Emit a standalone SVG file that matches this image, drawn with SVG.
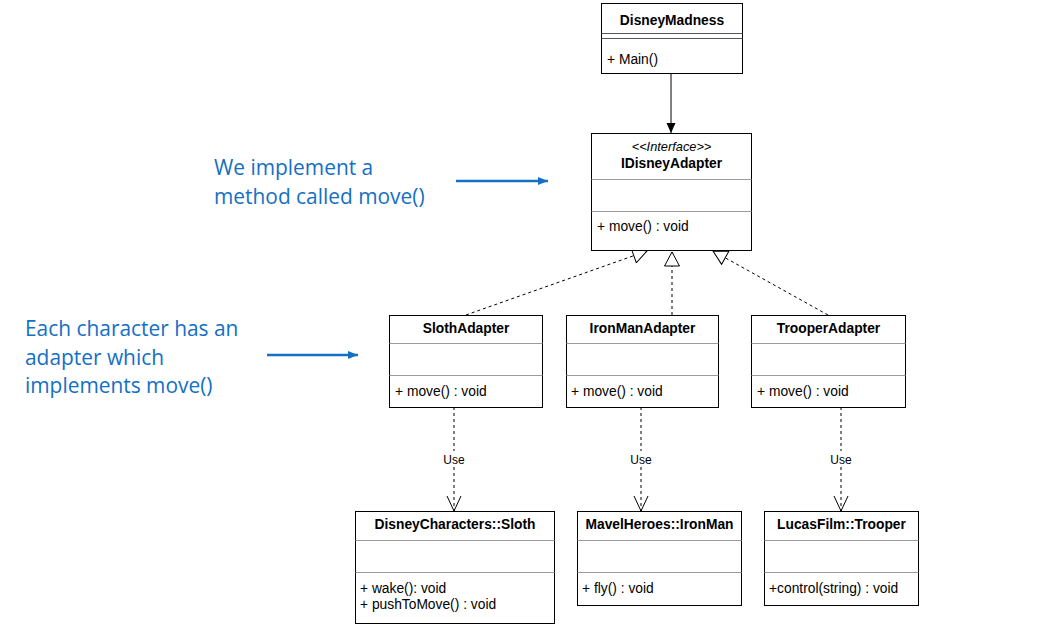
<svg xmlns="http://www.w3.org/2000/svg" width="1052" height="627" viewBox="0 0 1052 627">
<style>
.box{fill:#fff;stroke:#000;stroke-width:1}
.sep{stroke:#9a9a9a;stroke-width:1;fill:none}
.t{font-family:"Liberation Sans",Arial,sans-serif;font-size:13.8px;fill:#000}
.b{font-weight:bold;text-anchor:middle}
.c{text-anchor:middle}
.note{font-family:"Open Sans","Liberation Sans",sans-serif;font-size:20.9px;fill:#1570c4}
.dash{stroke:#000;stroke-width:1;stroke-dasharray:3,3;fill:none}
.blue{stroke:#1570c4;stroke-width:2.5;fill:none}
</style>
<defs>
<marker id="tri" markerWidth="16" markerHeight="16" refX="15" refY="8" orient="auto" markerUnits="userSpaceOnUse">
<path d="M1,0.5 L15,8 L1,15.5 Z" fill="#fff" stroke="#000" stroke-width="1"/>
</marker>
<marker id="vee" markerWidth="18" markerHeight="18" refX="15" refY="8" orient="auto" markerUnits="userSpaceOnUse">
<path d="M0,1 L15,8 L0,15" fill="none" stroke="#000" stroke-width="1"/>
</marker>
<marker id="fill" markerWidth="12" markerHeight="12" refX="10" refY="5" orient="auto" markerUnits="userSpaceOnUse">
<path d="M0,0.5 L10,5 L0,9.5 Z" fill="#000"/>
</marker>
<marker id="barrow" markerWidth="12" markerHeight="12" refX="10" refY="5" orient="auto" markerUnits="userSpaceOnUse">
<path d="M0,1 L10,5 L0,9 Z" fill="#1570c4"/>
</marker>
</defs>

<g id="connectors">
<line x1="671" y1="73" x2="671" y2="133" stroke="#000" stroke-width="1" marker-end="url(#fill)"/>
<line class="dash" x1="466" y1="315" x2="647" y2="251" marker-end="url(#tri)"/>
<line class="dash" x1="672" y1="315" x2="672" y2="252" marker-end="url(#tri)"/>
<line class="dash" x1="828" y1="315" x2="713" y2="251" marker-end="url(#tri)"/>
<line class="dash" x1="454" y1="407" x2="454" y2="511" marker-end="url(#vee)"/>
<line class="dash" x1="641" y1="407" x2="641" y2="511" marker-end="url(#vee)"/>
<line class="dash" x1="841" y1="407" x2="841" y2="511" marker-end="url(#vee)"/>
<rect x="440" y="451" width="28" height="15" fill="#fff"/>
<rect x="627" y="451" width="28" height="15" fill="#fff"/>
<rect x="827" y="451" width="28" height="15" fill="#fff"/>
<text class="t c" x="454" y="464" style="font-size:12px">Use</text>
<text class="t c" x="641" y="464" style="font-size:12px">Use</text>
<text class="t c" x="841" y="464" style="font-size:12px">Use</text>
<line class="blue" x1="456" y1="181" x2="548" y2="181" marker-end="url(#barrow)"/>
<line class="blue" x1="267" y1="355" x2="358" y2="355" marker-end="url(#barrow)"/>
</g>

<g id="note1">
<text class="note" x="214" y="175">We implement a</text>
<text class="note" x="214" y="204">method called move()</text>
</g>
<g id="note2">
<text class="note" x="25" y="336">Each character has an</text>
<text class="note" x="25" y="365">adapter which</text>
<text class="note" x="25" y="393">implements move()</text>
</g>

<g id="DisneyMadness">
<rect class="box" x="601.5" y="3.5" width="141" height="70"/>
<line class="sep" x1="601.5" y1="33.5" x2="742.5" y2="33.5" style="stroke:#555"/>
<line class="sep" x1="601.5" y1="38.5" x2="742.5" y2="38.5" style="stroke:#555"/>
<text class="t b" x="672" y="25">DisneyMadness</text>
<text class="t" x="607" y="64">+ Main()</text>
</g>

<g id="IDisneyAdapter">
<rect class="box" x="591.5" y="133.5" width="160" height="117"/>
<line class="sep" x1="591.5" y1="179.5" x2="751.5" y2="179.5"/>
<line class="sep" x1="591.5" y1="211.5" x2="751.5" y2="211.5"/>
<text class="t c" x="671.5" y="151" style="font-style:italic;font-size:12.8px">&lt;&lt;Interface&gt;&gt;</text>
<text class="t b" x="671.5" y="168">IDisneyAdapter</text>
<text class="t" x="597" y="231">+ move() : void</text>
</g>

<g id="SlothAdapter">
<rect class="box" x="389.5" y="315.5" width="153" height="92"/>
<line class="sep" x1="389.5" y1="343.5" x2="542.5" y2="343.5"/>
<line class="sep" x1="389.5" y1="375.5" x2="542.5" y2="375.5"/>
<text class="t b" x="466" y="333">SlothAdapter</text>
<text class="t" x="395" y="396">+ move() : void</text>
</g>

<g id="IronManAdapter">
<rect class="box" x="566.5" y="315.5" width="152" height="92"/>
<line class="sep" x1="566.5" y1="343.5" x2="718.5" y2="343.5"/>
<line class="sep" x1="566.5" y1="375.5" x2="718.5" y2="375.5"/>
<text class="t b" x="642.5" y="333">IronManAdapter</text>
<text class="t" x="571" y="396">+ move() : void</text>
</g>

<g id="TrooperAdapter">
<rect class="box" x="751.5" y="315.5" width="154" height="92"/>
<line class="sep" x1="751.5" y1="343.5" x2="905.5" y2="343.5"/>
<line class="sep" x1="751.5" y1="375.5" x2="905.5" y2="375.5"/>
<text class="t b" x="828.5" y="333">TrooperAdapter</text>
<text class="t" x="757" y="396">+ move() : void</text>
</g>

<g id="Sloth">
<rect class="box" x="355.5" y="511.5" width="199" height="112"/>
<line class="sep" x1="355.5" y1="540.5" x2="554.5" y2="540.5"/>
<line class="sep" x1="355.5" y1="572.5" x2="554.5" y2="572.5"/>
<text class="t b" x="455" y="529">DisneyCharacters::Sloth</text>
<text class="t" x="360" y="593">+ wake(): void</text>
<text class="t" x="360" y="609">+ pushToMove() : void</text>
</g>

<g id="IronMan">
<rect class="box" x="577.5" y="511.5" width="164" height="94"/>
<line class="sep" x1="577.5" y1="540.5" x2="741.5" y2="540.5"/>
<line class="sep" x1="577.5" y1="572.5" x2="741.5" y2="572.5"/>
<text class="t b" x="659.5" y="529">MavelHeroes::IronMan</text>
<text class="t" x="582" y="593">+ fly() : void</text>
</g>

<g id="Trooper">
<rect class="box" x="764.5" y="511.5" width="154" height="94"/>
<line class="sep" x1="764.5" y1="540.5" x2="918.5" y2="540.5"/>
<line class="sep" x1="764.5" y1="572.5" x2="918.5" y2="572.5"/>
<text class="t b" x="841.5" y="529">LucasFilm::Trooper</text>
<text class="t" x="769" y="593">+control(string) : void</text>
</g>
</svg>
